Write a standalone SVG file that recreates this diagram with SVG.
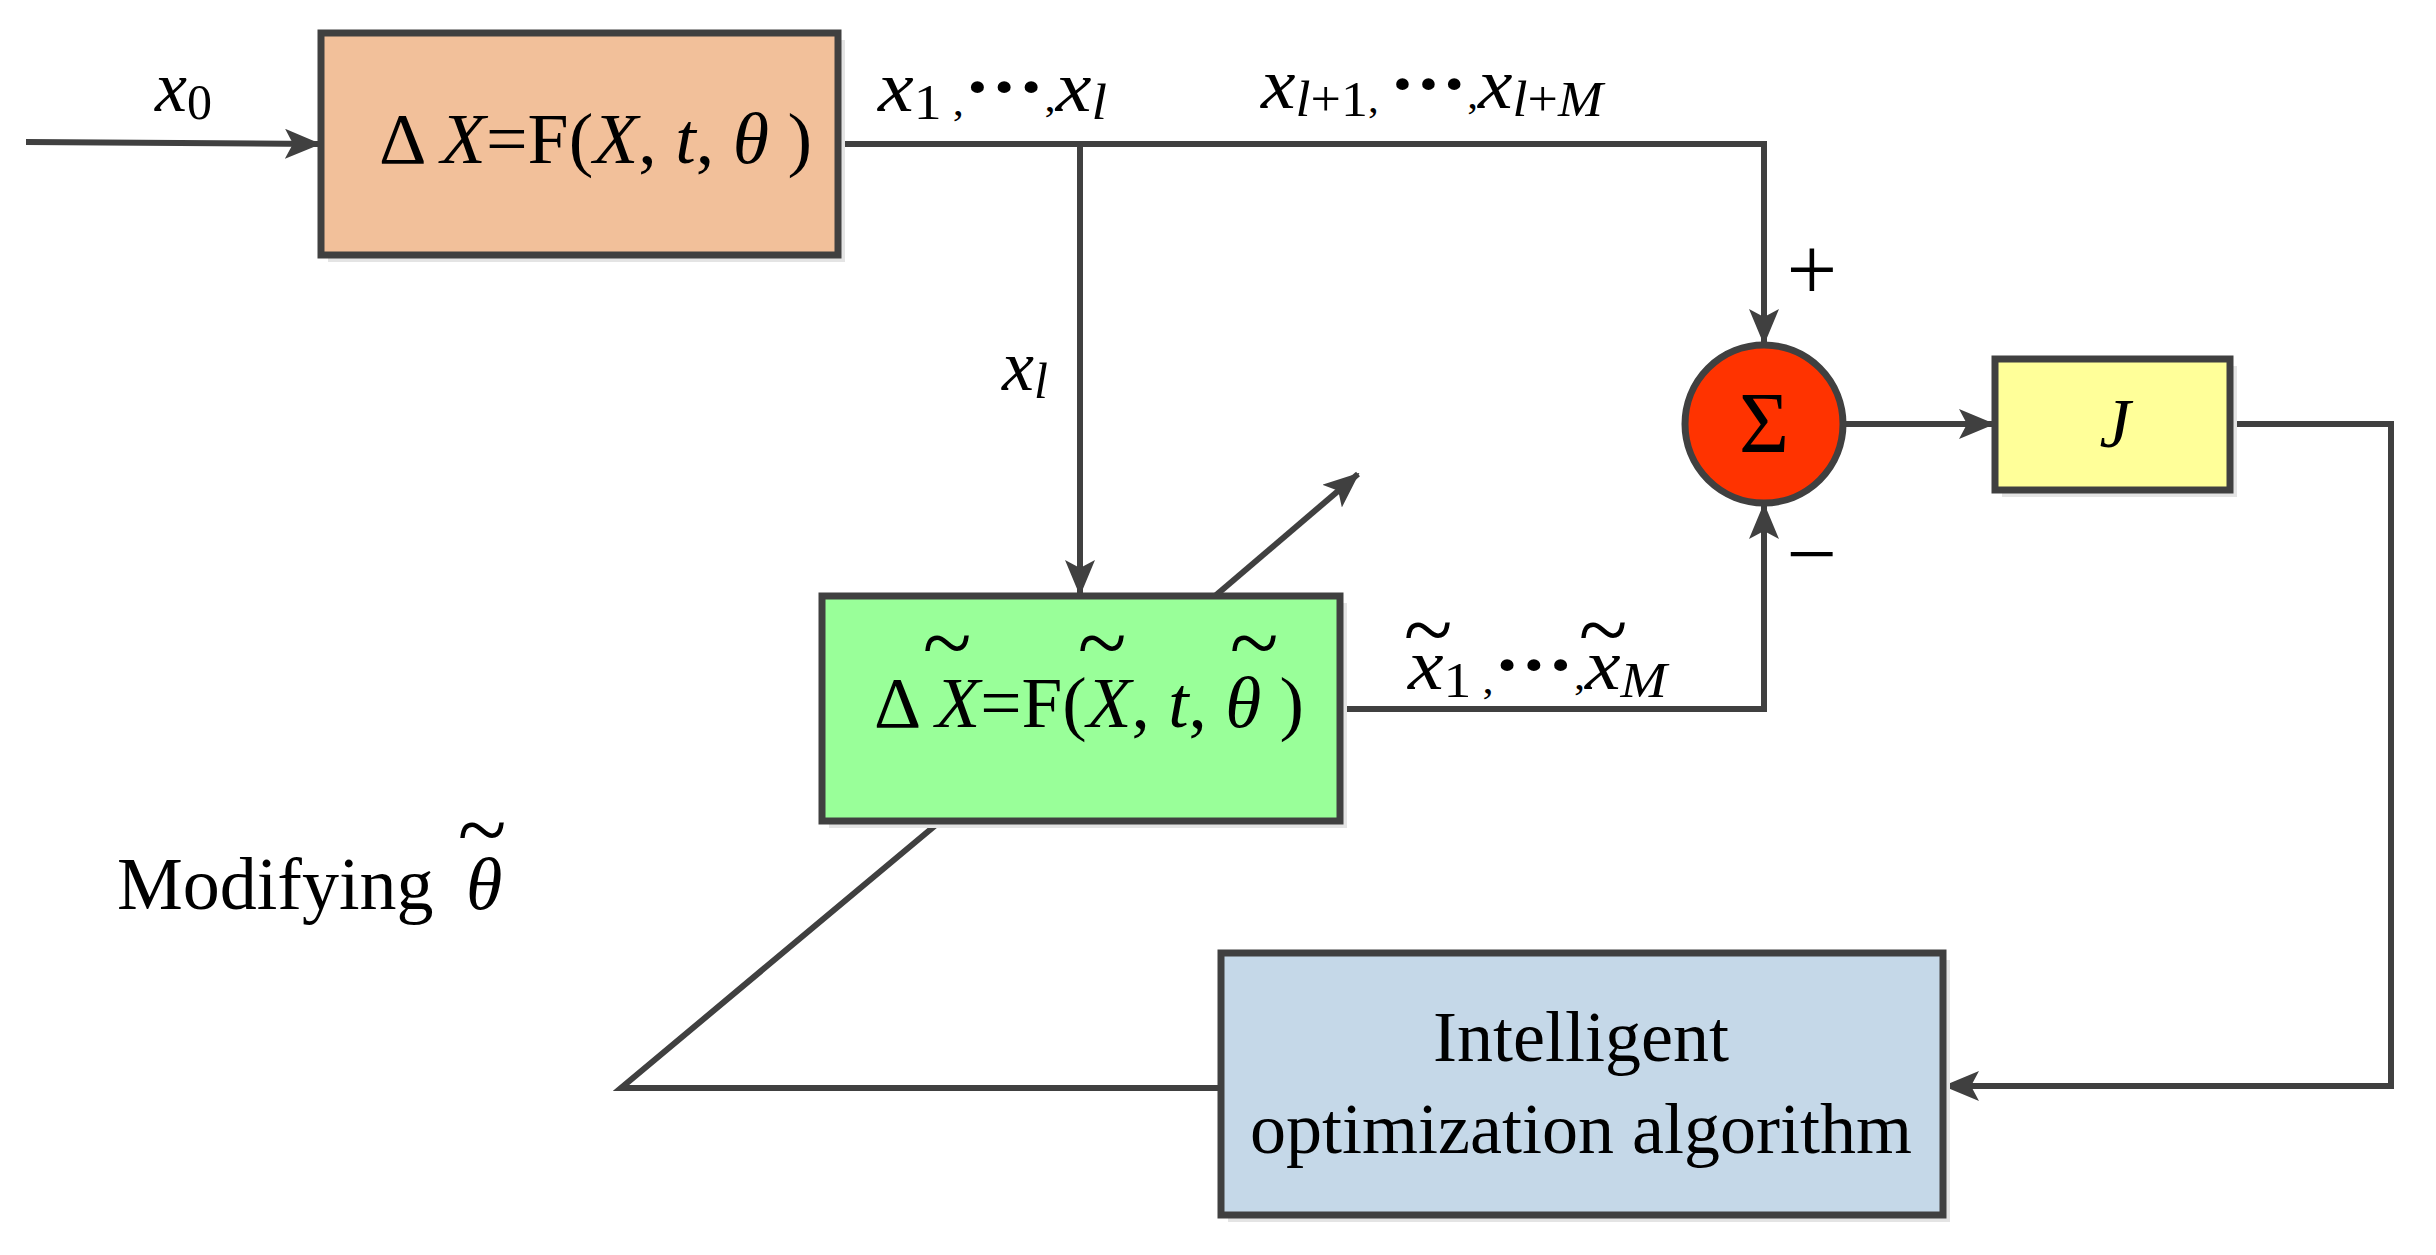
<svg xmlns="http://www.w3.org/2000/svg" width="2436" height="1255" viewBox="0 0 2436 1255">
<style>
.t{font-family:"Liberation Serif","Times New Roman",serif;fill:#000}
.i{font-style:italic}
.til{font-family:"Liberation Serif","Times New Roman",serif;fill:#000;font-size:90px;text-anchor:middle}
.box{stroke:#404040;stroke-width:7}
.sh{fill:#e4e4e4}
.ln{fill:none;stroke:#404040;stroke-width:6;stroke-linejoin:miter}
</style>
<defs>
<marker id="a" markerWidth="36" markerHeight="30" refX="34" refY="15" orient="auto" markerUnits="userSpaceOnUse" viewBox="0 0 36 30">
<path d="M0,0 L36,15 L0,30 L8,15 Z" fill="#404040"/>
</marker>
</defs>
<rect width="2436" height="1255" fill="#fff"/>
<g id="connectors">
<path class="ln" d="M26,142 L319,144" marker-end="url(#a)"/>
<path class="ln" d="M838,144 L1764,144 L1764,343" marker-end="url(#a)"/>
<path class="ln" d="M1080,144 L1080,594" marker-end="url(#a)"/>
<path class="ln" d="M1340,709 L1764,709 L1764,505" marker-end="url(#a)"/>
<path class="ln" d="M1843,424 L1993,424" marker-end="url(#a)"/>
<path class="ln" d="M2230,424 L2391,424 L2391,1086 L1945,1086" marker-end="url(#a)"/>
<path class="ln" d="M1221,1088 L621,1088 L937,824"/>
<path class="ln" d="M1215,596 L1358,474" marker-end="url(#a)"/>
</g>
<g id="n-model">
<rect class="sh" x="328" y="40" width="517" height="222"/>
<rect class="box" x="321" y="33" width="517" height="222" fill="#F2C09A"/>
<text class="t" x="379" y="163" font-size="72" textLength="433" lengthAdjust="spacingAndGlyphs">Δ <tspan class="i">X</tspan>=F(<tspan class="i">X</tspan>, <tspan class="i">t</tspan>, <tspan class="i">θ</tspan> )</text>
</g>
<g id="n-est">
<rect class="sh" x="829" y="603" width="518" height="225"/>
<rect class="box" x="822" y="596" width="518" height="225" fill="#99FF99"/>
<text class="t" x="874" y="727" font-size="72" textLength="430" lengthAdjust="spacingAndGlyphs">Δ <tspan class="i">X</tspan>=F(<tspan class="i">X</tspan>, <tspan class="i">t</tspan>, <tspan class="i">θ</tspan> )</text>
<text class="til" x="947" y="673">~</text>
<text class="til" x="1102" y="673">~</text>
<text class="til" x="1254" y="673">~</text>
</g>
<g id="n-sum">
<circle cx="1764" cy="424" r="79" fill="#FF3300" stroke="#404040" stroke-width="7"/>
<text class="t" x="1764" y="452" font-size="86" text-anchor="middle">Σ</text>
</g>
<g id="n-J">
<rect class="sh" x="2002" y="366" width="235" height="131"/>
<rect class="box" x="1995" y="359" width="235" height="131" fill="#FFFF99"/>
<text class="t i" x="2115" y="447" font-size="70" text-anchor="middle">J</text>
</g>
<g id="n-opt">
<rect class="sh" x="1228" y="960" width="722" height="262"/>
<rect class="box" x="1221" y="953" width="722" height="262" fill="#C5D8E8"/>
<text class="t" x="1581" y="1061" font-size="72" text-anchor="middle">Intelligent</text>
<text class="t" x="1581" y="1153" font-size="72" text-anchor="middle">optimization algorithm</text>
</g>
<g id="labels">
<text class="t" x="155" y="111" font-size="72"><tspan class="i">x</tspan><tspan font-size="50" dy="8">0</tspan></text>
<text class="t" x="878" y="111" font-size="72" textLength="229" lengthAdjust="spacingAndGlyphs"><tspan class="i">x</tspan><tspan font-size="50" dy="8">1</tspan><tspan font-size="40" dy="-4"> ,</tspan><tspan dy="-4" font-weight="bold">···</tspan><tspan font-size="40">,</tspan><tspan class="i">x</tspan><tspan class="i" font-size="50" dy="8">l</tspan></text>
<text class="t" x="1261" y="108" font-size="72" textLength="342" lengthAdjust="spacingAndGlyphs"><tspan class="i">x</tspan><tspan font-size="50" dy="8"><tspan class="i">l</tspan>+1</tspan><tspan font-size="40" dy="-4">, </tspan><tspan dy="-4" font-weight="bold">···</tspan><tspan font-size="40">,</tspan><tspan class="i">x</tspan><tspan class="i" font-size="50" dy="8">l</tspan><tspan font-size="50">+</tspan><tspan class="i" font-size="50">M</tspan></text>
<text class="t" x="1002" y="390" font-size="72"><tspan class="i">x</tspan><tspan class="i" font-size="50" dy="8">l</tspan></text>
<text class="t" x="1408" y="689" font-size="72" textLength="259" lengthAdjust="spacingAndGlyphs"><tspan class="i">x</tspan><tspan font-size="50" dy="8">1</tspan><tspan font-size="40" dy="-4"> ,</tspan><tspan dy="-4" font-weight="bold">···</tspan><tspan font-size="40">,</tspan><tspan class="i">x</tspan><tspan class="i" font-size="50" dy="8">M</tspan></text>
<text class="til" x="1428" y="660">~</text>
<text class="til" x="1603" y="660">~</text>
<text class="t" x="1812" y="300" font-size="90" text-anchor="middle">+</text>
<text class="t" x="1812" y="584" font-size="90" text-anchor="middle">−</text>
<text class="t" x="117" y="909" font-size="74">Modifying</text>
<text class="t i" x="466" y="909" font-size="74">θ</text>
<text class="til" x="482" y="860">~</text>
</g>
</svg>
